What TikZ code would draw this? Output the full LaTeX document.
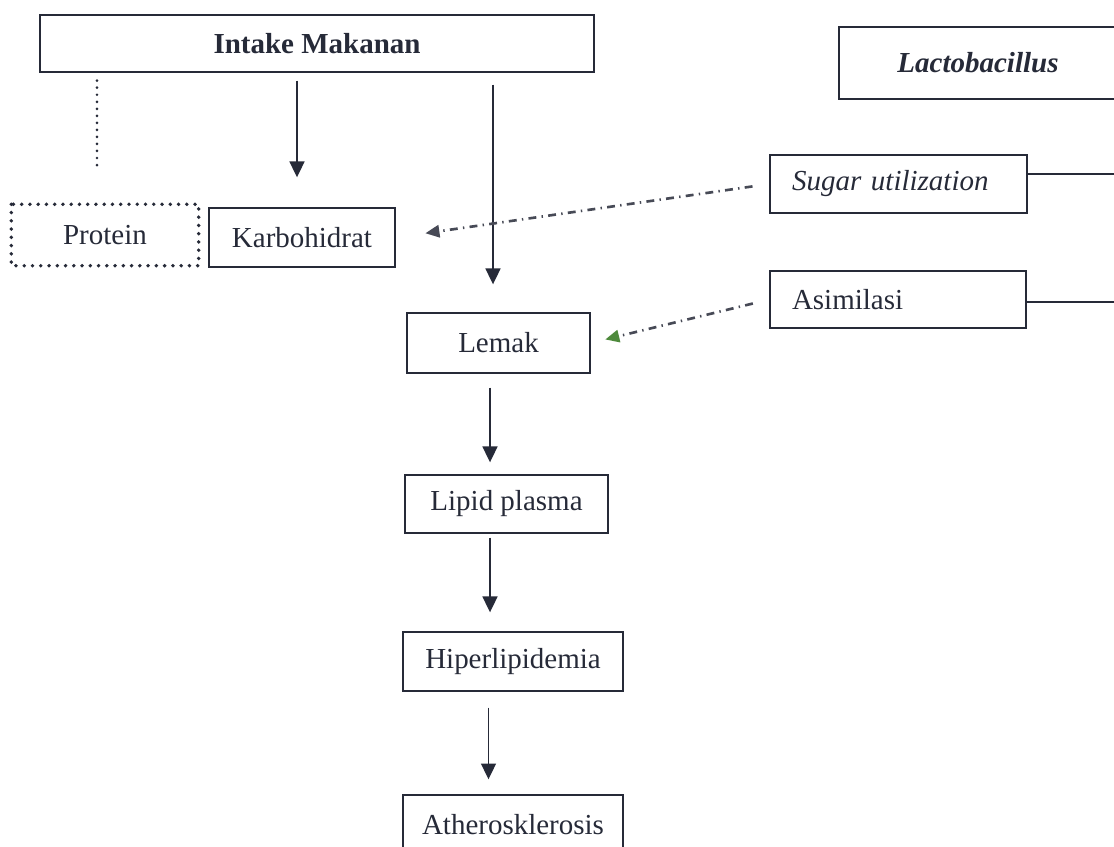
\documentclass[tikz,border=0pt]{standalone}
\usepackage{fontspec}
\setmainfont{Liberation Serif}
\usetikzlibrary{arrows.meta,calc}
\definecolor{ink}{HTML}{262A38}
\definecolor{tipgreen}{HTML}{4E8A3C}
\tikzset{>={Triangle[length=9pt,width=8.5pt]}}
\tikzset{box/.style={draw=ink,line width=0.8pt,inner sep=0pt,text=ink,font=\fontsize{16.5}{20}\selectfont}}
\tikzset{dotbox/.style={draw=ink,line width=2.2pt,line cap=round,dash pattern=on 0pt off 4.7pt}}
\tikzset{flow/.style={draw=ink,line width=0.9pt,->}}
\tikzset{link/.style={draw=ink,line width=0.8pt}}
\tikzset{effect/.style={draw=ink!85,line width=1.5pt,dash pattern=on 4.5pt off 3pt on 0.8pt off 3pt,-{Triangle[length=8pt,width=7pt]}}}

\begin{document}
\begin{tikzpicture}[x=0.02cm,y=-0.02cm]
    \useasboundingbox (0,0) rectangle (1114,847);
    % top row
    \node[box,minimum width=11.08cm,minimum height=1.14cm] (intake) at (317,43.5) {\bfseries Intake Makanan};
    \node[box,minimum width=5.56cm,minimum height=1.44cm] (lacto) at (978,63) {\bfseries\itshape Lactobacillus};
    \node[box,minimum height=1.16cm,text width=4.26cm,inner xsep=0.44cm,align=left] (sugar) at (898.5,184) {\itshape Sugar utilization};
    \node[box,minimum height=1.14cm,text width=4.24cm,inner xsep=0.44cm,align=left] (asim) at (898,299.5) {Asimilasi};
    % chain
    \node[box,draw=none,minimum width=3.72cm,minimum height=1.2cm] (protein) at (105,235) {Protein};
    \draw[dotbox] (protein.north west) rectangle (protein.south east);
    \node[box,minimum width=3.72cm,minimum height=1.18cm] (karbo) at (302,237.5) {Karbohidrat};
    \node[box,minimum width=3.66cm,minimum height=1.2cm] (lemak) at (498.5,343) {Lemak};
    \node[box,minimum width=4.06cm,minimum height=1.16cm] (lipid) at (506.5,504) {Lipid plasma};
    \node[box,minimum width=4.4cm,minimum height=1.18cm] (hiper) at (513,661.5) {Hiperlipidemia};
    \node[box,minimum width=4.4cm,minimum height=1.2cm] (athero) at (513,825) {Atherosklerosis};
    \coordinate (sugarend) at (1116,174);
    \coordinate (asimend) at (1116,302);

    \draw[ink,line width=1.7pt,line cap=round,dash pattern=on 0pt off 4pt,shorten <=0.16cm,shorten >=0.66cm]
      ($(protein.north |- intake.south)+(-8,0)$) -- ($(protein.north)+(-8,0)$);
    \draw[flow,shorten <=0.16cm,shorten >=0.6cm] ($(karbo.north |- intake.south)+(-5,0)$) -- ($(karbo.north)+(-5,0)$);
    \draw[flow,shorten <=0.24cm,shorten >=0.56cm] ($(lemak.north |- intake.south)+(-5.5,0)$) -- ($(lemak.north)+(-5.5,0)$);
    \draw[flow,shorten <=0.28cm,shorten >=0.24cm] ($(lemak.south)+(-8.5,0)$) -- ($(lipid.north)+(-16.5,0)$);
    \draw[flow,shorten <=0.08cm,shorten >=0.38cm] ($(lipid.south)+(-16.5,0)$) -- ($(hiper.north)+(-23,0)$);
    \draw[flow,shorten <=0.32cm,shorten >=0.3cm] ($(hiper.south)+(-24.5,0)$) -- ($(athero.north)+(-24.5,0)$);

    \draw[effect,shorten <=0.34cm,shorten >=0.6cm] (sugar.west) -- (karbo.east);
    \draw[effect,-{Triangle[length=8pt,width=7pt,color=tipgreen]},shorten <=0.34cm,shorten >=0.3cm] (asim.west) -- (lemak.east);

    \draw[link] (sugar.east |- sugarend) -- (sugarend);
    \draw[link] (asim.east |- asimend) -- (asimend);
\end{tikzpicture}
\end{document}
